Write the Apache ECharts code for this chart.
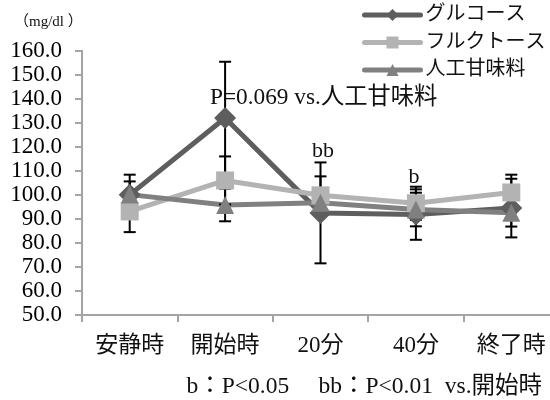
<!DOCTYPE html>
<html><head><meta charset="utf-8">
<script src="https://cdn.jsdelivr.net/npm/echarts@6/dist/echarts.min.js"></script>
<style>html,body{margin:0;padding:0;overflow:hidden;background:#fff}#c{width:560px;height:400px}</style>
</head><body><div id="c"></div>
<script>
const categories = ['安静時', '開始時', '20分', '40分', '終了時'];
const seriesNames = ['グルコース', 'フルクトース', '人工甘味料'];
const glucose = [100, 132, 92.5, 91.8, 94.5];
const glucoseSD = [8.4, 23.4, 21, 10.5, 12.2];
const fructose = [93.1, 106, 99.8, 96.5, 101];
const fructoseSD = [8.6, 10, 7.9, 6.9, 7.4];
const sweetener = [100.1, 95.8, 96.7, 93.9, 92.6];
const sweetenerSD = [5.5, 6.8, 5, 7, 5.8];
const yMin = 50, yMax = 160, yStep = 10;
const unitText = '（mg/dl ）';
const pText = 'P=0.069 vs.人工甘味料';
const sig20 = 'bb', sig40 = 'b';
const footText = 'b：P<0.05　 bb：P<0.01  vs.開始時';

const FONT = "'Liberation Serif','Noto Sans CJK JP',serif";
const colors = ['#5e5e5e', '#b3b3b3', '#808080'];
const symbols = ['diamond', 'rect', 'triangle'];
const symSizes = [22, 18, 18];
const means = [glucose, fructose, sweetener];
const sds = [glucoseSD, fructoseSD, sweetenerSD];

const series = [];
means.forEach((m, i) => {
  series.push({
    name: seriesNames[i], type: 'line', data: m, showSymbol: false,
    symbol: symbols[i], symbolSize: symSizes[i], z: 2,
    lineStyle: { width: 5, color: colors[i] }, itemStyle: { color: colors[i] },
    emphasis: { disabled: true }, animation: false
  });
});
means.forEach((m, i) => {
  series.push({
    name: seriesNames[i] + '_err', type: 'custom', z: 3, animation: false,
    data: m.map((v, k) => [k, v - sds[i][k], v + sds[i][k]]),
    renderItem(params, api) {
      const x = api.value(0);
      const pLo = api.coord([x, api.value(1)]);
      const pHi = api.coord([x, api.value(2)]);
      const w = 6;
      const st = { stroke: '#000', lineWidth: 2 };
      return { type: 'group', children: [
        { type: 'line', shape: { x1: pLo[0], y1: pLo[1], x2: pHi[0], y2: pHi[1] }, style: st },
        { type: 'line', shape: { x1: pLo[0] - w, y1: pLo[1], x2: pLo[0] + w, y2: pLo[1] }, style: st },
        { type: 'line', shape: { x1: pHi[0] - w, y1: pHi[1], x2: pHi[0] + w, y2: pHi[1] }, style: st }
      ]};
    }
  });
});
means.forEach((m, i) => {
  series.push({
    name: seriesNames[i] + '_pt', type: 'line', data: m, z: 4, animation: false,
    symbol: symbols[i], symbolSize: symSizes[i], showAllSymbol: true,
    lineStyle: { width: 0, opacity: 0 }, itemStyle: { color: colors[i], opacity: 1 },
    emphasis: { disabled: true }
  });
});

const chart = echarts.init(document.getElementById('c'), null, { renderer: 'canvas' });
chart.setOption({
  animation: false,
  textStyle: { fontFamily: FONT },
  grid: { left: 82, right: 1, top: 50.7, bottom: 85 },
  legend: {
    data: seriesNames, orient: 'vertical', left: 362, top: 4, padding: 0,
    itemWidth: 56, itemHeight: 15, itemGap: 5.5,
    lineStyle: { width: 5, cap: 'round' },
    textStyle: { fontSize: 20, lineHeight: 22, color: '#111', fontFamily: FONT },
    selectedMode: false
  },
  xAxis: {
    type: 'category', data: categories, boundaryGap: true,
    axisLine: { lineStyle: { color: '#a4a4a4', width: 2 } },
    axisTick: { show: true, length: 7, alignWithLabel: false, lineStyle: { color: '#a4a4a4', width: 2 } },
    axisLabel: { fontSize: 23, color: '#111', margin: 19, fontFamily: FONT },
    splitLine: { show: false }
  },
  yAxis: {
    type: 'value', min: yMin, max: yMax, interval: yStep,
    axisLine: { show: true, lineStyle: { color: '#a4a4a4', width: 2 } },
    axisTick: { show: true, length: 7, lineStyle: { color: '#a4a4a4', width: 2 } },
    axisLabel: { fontSize: 23, color: '#000', margin: 20, fontFamily: FONT, formatter: v => v.toFixed(1) },
    splitLine: { show: false }
  },
  graphic: [
    { type: 'text', x: 14, y: 22, style: { text: unitText, fontSize: 15, fill: '#111', fontFamily: FONT, verticalAlign: 'middle' } },
    { type: 'text', x: 210, y: 98, style: { text: pText, fontSize: 23.3, fill: '#111', fontFamily: FONT, verticalAlign: 'middle', align: 'left' } },
    { type: 'text', x: 323, y: 151, style: { text: sig20, fontSize: 22, fill: '#111', fontFamily: FONT, verticalAlign: 'middle', align: 'center' } },
    { type: 'text', x: 414, y: 177, style: { text: sig40, fontSize: 22, fill: '#111', fontFamily: FONT, verticalAlign: 'middle', align: 'center' } },
    { type: 'text', x: 542, y: 387, style: { text: footText, fontSize: 23.5, fill: '#111', fontFamily: FONT, verticalAlign: 'middle', align: 'right' } }
  ],
  series: series
});
</script></body></html>
